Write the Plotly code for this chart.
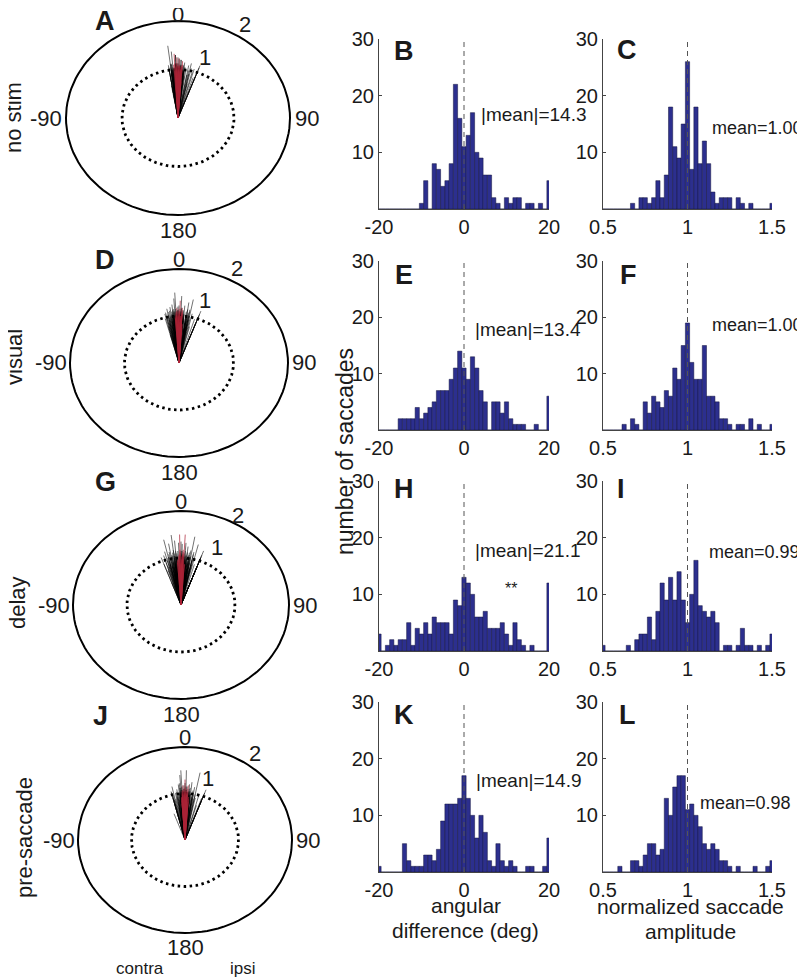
import numpy as np
import plotly.graph_objects as go

OFF = 8                       # the page body adds an 8px margin
W, H = 805 - OFF, 980 - OFF
FONT = "Liberation Sans, Arial, sans-serif"

# histogram bin centres
ang_bins = np.arange(-20, 21)                       # angular difference (deg), 1 deg bins
amp_bins = np.round(0.5 + 0.025 * np.arange(41), 3)  # normalized amplitude, 0.025 bins

conditions = ["no stim", "visual", "delay", "pre-saccade"]

# counts (B, E, H, K), bins -20..20
ang_no_stim = [0, 0, 0, 0, 0, 0, 0, 0, 0, 0, 1, 5, 0, 8, 7, 4, 5, 8, 22, 16,
               11, 13, 17, 10, 9, 6, 6, 2, 1, 0, 2, 1, 2, 2, 0, 1, 1, 0, 1, 0, 5]
ang_visual = [0, 0, 0, 0, 0, 2, 2, 2, 2, 4, 2, 3, 4, 5, 7, 7, 7, 9, 11, 14,
              11, 9, 13, 11, 7, 5, 0, 5, 5, 3, 5, 2, 1, 1, 1, 0, 0, 1, 0, 0, 6]
ang_delay = [3, 0, 1, 2, 1, 2, 2, 5, 1, 4, 3, 5, 3, 6, 5, 5, 5, 3, 9, 8,
             13, 12, 10, 6, 6, 7, 4, 4, 4, 5, 3, 1, 5, 2, 1, 0, 1, 0, 0, 0, 12]
ang_presacc = [1, 0, 0, 0, 0, 0, 5, 2, 1, 1, 1, 3, 3, 2, 4, 9, 12, 12, 12, 13,
               17, 13, 10, 6, 10, 7, 2, 1, 5, 2, 1, 2, 1, 0, 0, 1, 1, 0, 0, 1, 6]

# counts (C, F, I, L), bins 0.5..1.5
amp_no_stim = [0, 0, 0, 0, 0, 0, 0, 1, 0, 2, 2, 1, 2, 5, 2, 6, 18, 11, 9, 15,
               26, 7, 18, 8, 12, 8, 3, 1, 2, 2, 2, 0, 2, 1, 0, 1, 0, 0, 0, 0, 1]
amp_visual = [0, 0, 0, 0, 0, 1, 0, 2, 1, 0, 5, 3, 6, 5, 4, 7, 6, 11, 9, 15,
              19, 12, 9, 9, 15, 6, 6, 5, 2, 2, 1, 0, 1, 1, 0, 2, 0, 1, 0, 0, 1]
amp_delay = [1, 0, 0, 0, 0, 0, 1, 0, 2, 3, 3, 6, 2, 7, 12, 9, 13, 9, 14, 9,
             5, 10, 16, 8, 7, 6, 7, 5, 0, 1, 1, 0, 1, 4, 1, 1, 0, 1, 0, 1, 3]
amp_presacc = [0, 0, 0, 0, 1, 0, 0, 2, 2, 1, 3, 5, 5, 3, 4, 13, 10, 15, 17, 17,
               11, 12, 10, 8, 5, 4, 5, 4, 2, 2, 1, 0, 1, 0, 0, 0, 1, 0, 0, 1, 2]

ang_mean_text = ["|mean|=14.3", "|mean|=13.4", "|mean|=21.1", "|mean|=14.9"]
amp_mean_text = ["mean=1.00", "mean=1.00", "mean=0.99", "mean=0.98"]

ang_counts = [ang_no_stim, ang_visual, ang_delay, ang_presacc]
amp_counts = [amp_no_stim, amp_visual, amp_delay, amp_presacc]

# ---- layout geometry (window pixels) ----
polar_geom = [(178, 118, 56, 48.5), (179, 363, 54.5, 47), (181, 605, 54, 47), (185, 840, 53.5, 46.5)]
lab0_pos = [2.13, 2.2, 2.2, 2.2]
lab2_pos = [(1.2, 1.92), (1.06, 2.0), (1.06, 1.91), (1.31, 1.87)]
lab1_pos = [(0.48, 1.24), (0.48, 1.34), (0.67, 1.23), (0.43, 1.33)]
row_lab_pos = [(14, 118), (14, 357), (17, 603), (24, 838)]
polar_letters = [("A", 105, 21), ("D", 105, 260), ("G", 105, 482), ("J", 100, 716)]
hist_y = [(39, 209), (261, 430), (481, 651), (702, 872)]
ang_x = (379, 549)
amp_x = (603, 772)
ang_letters = [("B", 404, 51), ("E", 404, 275), ("H", 404, 489), ("K", 404, 715)]
amp_letters = [("C", 627, 50), ("F", 628, 275), ("I", 621, 489), ("L", 627, 715)]
ang_text_pos = [(3.5, 16.6), (2.1, 17.8), (2.1, 17.8), (2.35, 16.2)]
amp_text_pos = [(1.133, 14.3), (1.133, 18.6), (1.115, 17.5), (1.062, 12.2)]

BAR = "#2c2f8e"
EDGE = "#15153f"


def px(x):
    return (x - OFF) / W


def py(y):
    return 1 - (y - OFF) / H


def axnames(i):
    s = "" if i == 1 else str(i)
    return "xaxis" + s, "yaxis" + s, "x" + s, "y" + s


fig = go.Figure()
layout = {}
ann = []
shapes = []


def txt(text, x, y, size=22, xref="paper", yref="paper", bold=False, angle=0, xanchor="center"):
    if xref == "paper":
        x = px(x)
    if yref == "paper":
        y = py(y)
    ann.append(dict(text="<b>%s</b>" % text if bold else text, x=x, y=y, xref=xref, yref=yref,
                    showarrow=False, textangle=angle, xanchor=xanchor, yanchor="middle",
                    font=dict(family=FONT, size=size, color="#1a1a1a")))


circ = np.linspace(0, 2 * np.pi, 121)
R = 2.4

for r in range(4):
    xk, yk, xr, yr = axnames(r + 1)
    cx, cy, sx, sy = polar_geom[r]
    x_lo, x_hi = max(OFF, cx - R * sx), min(805, cx + R * sx)
    y_top, y_bot = max(OFF, cy - R * sy), min(980, cy + R * sy)
    layout[xk] = dict(domain=[px(x_lo), px(x_hi)], range=[(x_lo - cx) / sx, (x_hi - cx) / sx],
                      visible=False, anchor=yr, fixedrange=True)
    layout[yk] = dict(domain=[py(y_bot), py(y_top)], range=[(cy - y_bot) / sy, (cy - y_top) / sy],
                      visible=False, anchor=xr, fixedrange=True)

    # saccade end points: angular error paired with normalized amplitude
    ang = np.repeat(ang_bins, ang_counts[r]).astype(float)
    amp = np.repeat(amp_bins, amp_counts[r])
    n = min(len(ang), len(amp))
    order = (np.arange(n) * 61) % len(amp)
    th = np.deg2rad(ang[:n])
    rr = amp[order]
    ex, ey = rr * np.sin(th), rr * np.cos(th)
    bx, by, rx, ry = [], [], [], []
    for i in range(n):
        if abs(ang[i]) <= 4 and i % 3 == 0:
            rx += [0, ex[i], None]
            ry += [0, ey[i], None]
        else:
            bx += [0, ex[i], None]
            by += [0, ey[i], None]

    fig.add_trace(go.Scatter(x=2 * np.sin(circ), y=2 * np.cos(circ), mode="lines",
                             line=dict(color="black", width=2), xaxis=xr, yaxis=yr, hoverinfo="skip"))
    fig.add_trace(go.Scatter(x=np.sin(circ), y=np.cos(circ), mode="lines",
                             line=dict(color="black", width=2.8, dash="2.5px,3.5px"),
                             xaxis=xr, yaxis=yr, hoverinfo="skip"))
    fig.add_trace(go.Scatter(x=bx, y=by, mode="lines", line=dict(color="rgba(0,0,0,0.8)", width=0.7),
                             xaxis=xr, yaxis=yr, hoverinfo="skip"))
    fig.add_trace(go.Scatter(x=rx, y=ry, mode="lines", line=dict(color="rgba(170,35,55,0.9)", width=0.8),
                             xaxis=xr, yaxis=yr, hoverinfo="skip"))

    txt("0", 0, lab0_pos[r], xref=xr, yref=yr)
    txt("180", 0, -2.32, xref=xr, yref=yr)
    txt("-90", -2.35, 0, xref=xr, yref=yr)
    txt("90", 2.3, 0, xref=xr, yref=yr)
    txt("2", lab2_pos[r][0], lab2_pos[r][1], xref=xr, yref=yr)
    txt("1", lab1_pos[r][0], lab1_pos[r][1], xref=xr, yref=yr)
    txt(conditions[r], row_lab_pos[r][0], row_lab_pos[r][1], angle=-90)
    L, lx, ly = polar_letters[r]
    txt(L, lx, ly, size=27, bold=True)

tickfont = dict(family=FONT, size=20, color="#1a1a1a")
axstyle = dict(showline=True, linecolor="#444", linewidth=1, ticks="inside", ticklen=3,
               tickcolor="#444", showgrid=False, zeroline=False, fixedrange=True, tickfont=tickfont)

for r in range(4):
    y0, y1 = hist_y[r]
    for j, (bins, counts, xpx, xr_, tv, tt, width, mid) in enumerate([
            (ang_bins, ang_counts[r], ang_x, [-20, 20], [-20, 0, 20], ["-20", "0", "20"], 1, 0),
            (amp_bins, amp_counts[r], amp_x, [0.5, 1.5], [0.5, 1, 1.5], ["0.5", "1", "1.5"], 0.025, 1)]):
        idx = 5 + 2 * r + j
        xk, yk, xr, yr = axnames(idx)
        layout[xk] = dict(domain=[px(xpx[0]), px(xpx[1])], range=xr_, anchor=yr,
                          tickvals=tv, ticktext=tt, **axstyle)
        layout[yk] = dict(domain=[py(y1), py(y0)], range=[0, 30], anchor=xr,
                          tickvals=[10, 20, 30], **axstyle)
        fig.add_trace(go.Bar(x=bins, y=counts, width=width, xaxis=xr, yaxis=yr,
                             marker=dict(color=BAR, line=dict(color=EDGE, width=0.5)), hoverinfo="skip"))
        shapes.append(dict(type="line", xref=xr, yref=yr, x0=mid, x1=mid, y0=0, y1=30, layer="above",
                           line=dict(color="#555", width=1, dash="5px,4px")))
        if j == 0:
            tx, ty = ang_text_pos[r]
            txt(ang_mean_text[r], tx, ty, size=19, xref=xr, yref=yr, xanchor="left")
            L, lx, ly = ang_letters[r]
            if r == 2:
                txt("**", 11, 11, size=16, xref=xr, yref=yr)
        else:
            tx, ty = amp_text_pos[r]
            txt(amp_mean_text[r], tx, ty, size=18, xref=xr, yref=yr, xanchor="left")
            L, lx, ly = amp_letters[r]
        txt(L, lx, ly, size=27, bold=True)

txt("number of saccades", 345, 452, size=23, angle=-90)
txt("angular", 466, 905, size=21)
txt("difference (deg)", 466, 930, size=21)
txt("normalized saccade", 690, 906, size=21)
txt("amplitude", 690, 931, size=21)
txt("contra", 140, 968, size=17)
txt("ipsi", 243, 968, size=17)

fig.update_layout(width=W, height=H, margin=dict(l=0, r=0, t=0, b=0, autoexpand=False),
                  paper_bgcolor="white", plot_bgcolor="white", showlegend=False,
                  annotations=ann, shapes=shapes, **layout)

fig.write_html("out.html")
